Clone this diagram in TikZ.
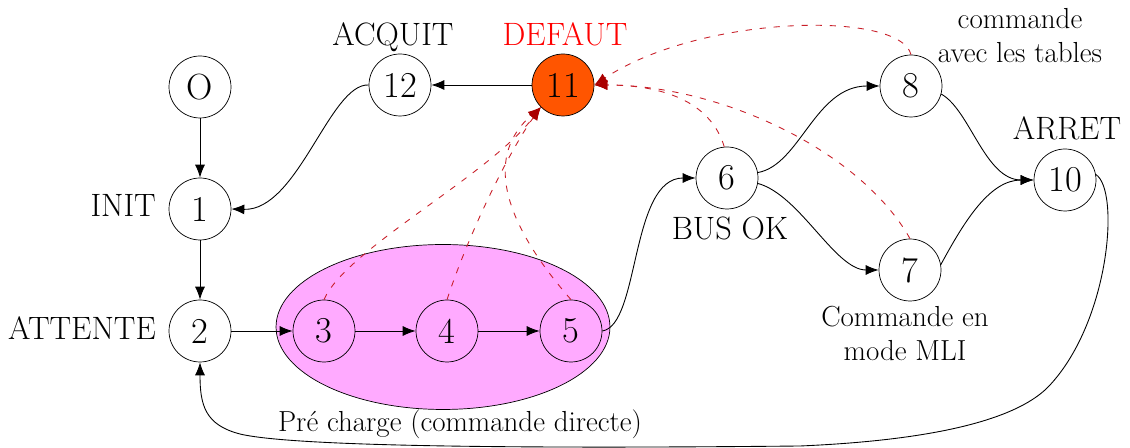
\documentclass[tikz,border=0pt]{standalone}
\usepackage{tikz}
\usetikzlibrary{
  arrows.meta,
  positioning,
  shapes.geometric
}
\definecolor{faultfill}{RGB}{255, 85, 0}
\definecolor{prechargefill}{RGB}{255, 170, 255}
\definecolor{faultlabel}{RGB}{255, 0, 0}
\definecolor{faultline}{RGB}{200, 30, 40}
\definecolor{faulttip}{RGB}{170, 0, 0}
\tikzset{
statenode/.style={
  circle,
  draw,
  minimum size=1.24cm,
  inner sep=0pt,
  font=\huge
},
faultnode/.style={
  statenode,
  fill=faultfill
},
statelabel/.style={
  font=\fontsize{18.4}{22}\selectfont,
  anchor=base
},
notelabel/.style={
  font=\fontsize{16.5}{19.5}\selectfont,
  align=center,
  anchor=base
},
arrow/.style={
  -{Latex[length=2.6mm,width=2mm]},
  line width=0.5pt
},
dashedarrow/.style={
  -{Latex[length=2.6mm,width=2mm,color=faulttip]},
  draw=faultline,
  dash pattern=on 3.5pt off 4.5pt,
  line width=0.5pt
}
}

\begin{document}
\begin{tikzpicture}[x=0.02cm, y=-0.02cm]
  \useasboundingbox (0,0) rectangle (1130,448);

  % --- precharge group ---
  \node[ellipse, draw, fill=prechargefill, minimum width=6.68cm, minimum height=3.3cm] (precharge) at (443,327) {};
  \node[notelabel] (prechargetxt) at (460,432) {Pr\'e charge (commande directe)};

  % --- states ---
  \node[statenode] (nO) at (200,87) {O};
  \node[statenode] (n1) at (200,209) {1};
  \node[statenode] (n2) at (200,331) {2};
  \node[statenode] (n3) at (324,331) {3};
  \node[statenode] (n4) at (447,331) {4};
  \node[statenode] (n5) at (571,331) {5};
  \node[statenode] (n12) at (400,85) {12};
  \node[faultnode] (n11) at (563,85) {11};
  \node[statenode] (n6) at (727,178) {6};
  \node[statenode] (n8) at (911,86) {8};
  \node[statenode] (n7) at (910,270) {7};
  \node[statenode] (n10) at (1065,180) {10};

  % --- state names ---
  \node[statelabel, anchor=base east] (initlbl) at (162,217) {INIT};
  \node[statelabel, anchor=base east] (attentelbl) at (162,340) {ATTENTE};
  \node[statelabel] (acquitlbl) at (393,46) {ACQUIT};
  \node[statelabel, text=faultlabel] (defautlbl) at (565,46) {DEFAUT};
  \node[statelabel] (arretlbl) at (1067,140) {ARRET};
  \node[statelabel] (busoklbl) at (730,240) {BUS OK};
  \node[notelabel] (tableslbl) at (1020,63) {commande\\avec les tables};
  \node[notelabel] (mlilbl) at (905,361) {Commande en\\mode MLI};

  % --- transitions ---
  \draw[arrow] (nO) -- (n1);
  \draw[arrow] (n1) -- (n2);
  \draw[arrow] (n2) -- (n3);
  \draw[arrow] (n3) -- (n4);
  \draw[arrow] (n4) -- (n5);
  \draw[arrow] (n11) -- (n12);
  \draw[arrow] (n12.west) .. controls (330,83) and (298,211) .. (n1.east);
  \draw[arrow] (n5.east) .. controls (640,325) and (630,178) .. (n6.west);
  \draw[arrow] (n6.10) .. controls (800,165) and (815,86) .. (n8.west);
  \draw[arrow] (n6.-10) .. controls (800,195) and (835,270) .. (n7.west);
  \draw[arrow] (n8.-15) .. controls (970,110) and (985,180) .. (n10.west);
  \draw[arrow] (n7.10) .. controls (965,220) and (990,180) .. (n10.west);
  \draw[arrow] (n10.10) .. controls (1120,190) and (1110,320) .. (1050,385)
    .. controls (1020,418) and (940,440) .. (800,446)
    .. controls (500,449) and (290,446) .. (240,434)
    .. controls (205,425) and (200,405) .. (n2.south);

  % --- faults ---
  \draw[dashedarrow] (n3.north) .. controls (345,250) and (490,175) .. (n11.south west);
  \draw[dashedarrow] (n4.north) .. controls (470,230) and (510,150) .. (n11.south west);
  \draw[dashedarrow] (n5.north) .. controls (510,230) and (480,160) .. (n11.south west);
  \draw[dashedarrow] (n6.95) .. controls (710,100) and (660,85) .. (n11.east);
  \draw[dashedarrow] (n7.north) .. controls (860,150) and (720,85) .. (n11.east);
  \draw[dashedarrow] (n8.north) .. controls (900,10) and (700,15) .. (n11.east);
\end{tikzpicture}
\end{document}
